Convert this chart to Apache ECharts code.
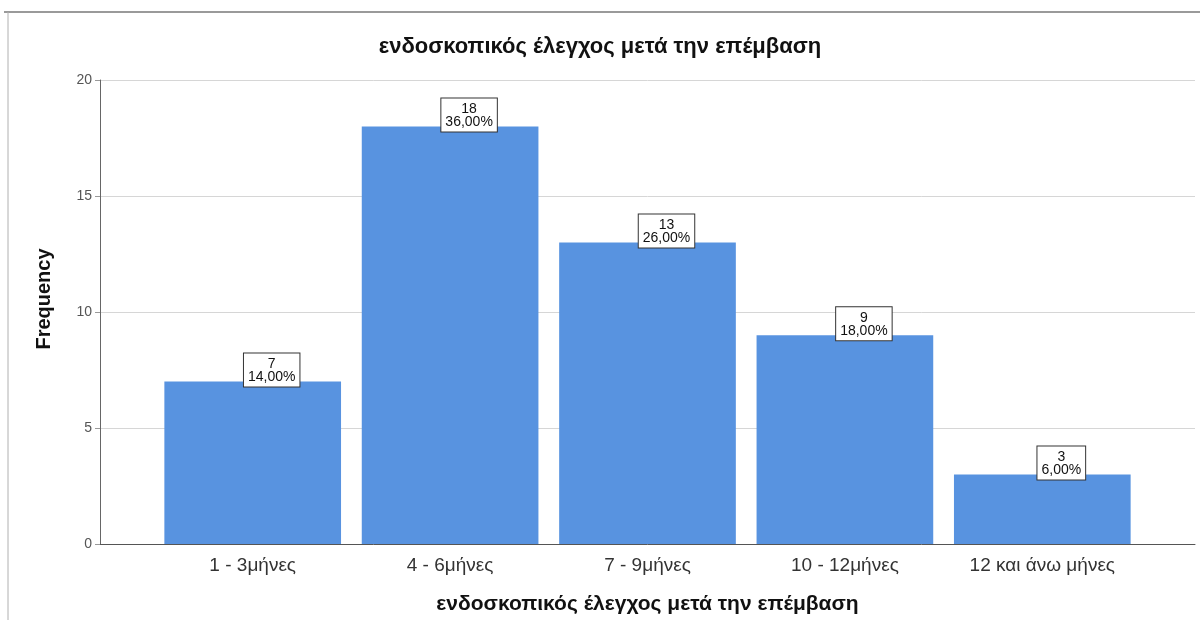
<!DOCTYPE html>
<html><head><meta charset="utf-8">
<script src="https://cdn.jsdelivr.net/npm/echarts@6/dist/echarts.min.js"></script>
<style>html,body{margin:0;padding:0;background:#fff}#c{width:1200px;height:620px}</style>
</head><body><div id="c"></div>
<script>
var titleText = 'ενδοσκοπικός έλεγχος μετά την επέμβαση';
var yName = 'Frequency';
var categories = ['1 - 3μήνες', '4 - 6μήνες', '7 - 9μήνες', '10 - 12μήνες', '12 και άνω μήνες'];
var counts = [7, 18, 13, 9, 3];
var percents = ['14,00%', '36,00%', '26,00%', '18,00%', '6,00%'];
var yTicks = [0, 5, 10, 15, 20];

var chart = echarts.init(document.getElementById('c'));
var font = '"Liberation Sans", Arial, sans-serif';
chart.setOption({
  animation: false,
  textStyle: {fontFamily: font},
  title: {text: titleText, left: 'center', top: 31,
    textStyle: {fontSize: 22, fontWeight: 'bold', color: '#111', fontFamily: font}},
  graphic: [
    {type: 'line', shape: {x1: 4, y1: 12, x2: 1200, y2: 12}, style: {stroke: '#9a9a9a', lineWidth: 2}},
    {type: 'line', shape: {x1: 8, y1: 12, x2: 8, y2: 620}, style: {stroke: '#b0b0b0', lineWidth: 1}},
    {type: 'text', x: 44, y: 299, rotation: Math.PI / 2,
      style: {text: yName, font: 'bold 20px ' + font, fill: '#111', align: 'center', verticalAlign: 'middle'}}
  ],
  grid: [
    {left: 100, right: 5, top: 80, bottom: 76},
    {left: 154, right: 59, top: 80, bottom: 76}
  ],
  xAxis: [
    {type: 'value', gridIndex: 0, min: 0, max: 1, show: true,
      axisLine: {show: true, onZero: false, lineStyle: {color: '#555'}},
      axisTick: {show: false}, axisLabel: {show: false}, splitLine: {show: false},
      name: titleText, nameLocation: 'middle', nameGap: 50,
      nameTextStyle: {fontSize: 21, fontWeight: 'bold', color: '#111', fontFamily: font}},
    {type: 'category', gridIndex: 1, data: categories,
      axisLine: {show: false}, axisTick: {show: false},
      axisLabel: {fontSize: 19, color: '#333', margin: 12, fontFamily: font}}
  ],
  yAxis: [
    {type: 'value', gridIndex: 0, min: 0, max: 20, interval: 5,
      axisLine: {show: true, lineStyle: {color: '#666'}},
      axisTick: {show: true, length: 5, lineStyle: {color: '#999'}},
      axisLabel: {fontSize: 14, color: '#555', margin: 8},
      splitLine: {lineStyle: {color: '#d6d6d6'}}},
    {type: 'value', gridIndex: 1, min: 0, max: 20, interval: 5, show: false}
  ],
  series: [{
    type: 'bar', xAxisIndex: 1, yAxisIndex: 1,
    data: counts, barCategoryGap: '10.5%',
    itemStyle: {color: '#5893e0'},
    label: {show: true, position: 'top', distance: -5, offset: [19, 0],
      formatter: function (p) { return counts[p.dataIndex] + '\n' + percents[p.dataIndex]; },
      fontSize: 14, lineHeight: 13, color: '#111', backgroundColor: '#fff',
      borderColor: '#333', borderWidth: 1, padding: [4, 4, 3, 4], align: 'center'}
  }]
});
</script></body></html>
